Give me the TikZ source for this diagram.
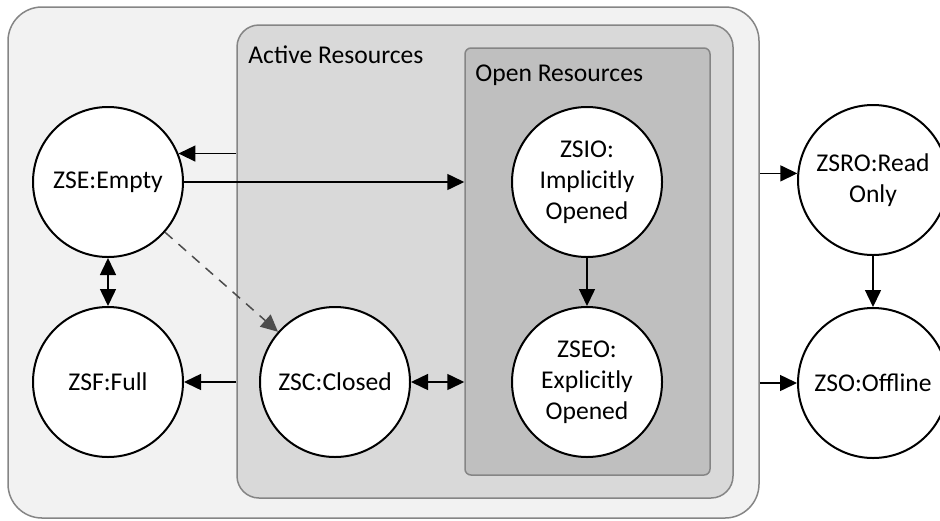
\documentclass[tikz,border=0pt]{standalone}
\usepackage{fontspec}
\setmainfont{Carlito}
\usepackage{tikz}
\usetikzlibrary{arrows.meta,positioning,calc,fit}
\definecolor{outerfill}{HTML}{F2F2F2}
\definecolor{activefill}{HTML}{D9D9D9}
\definecolor{openfill}{HTML}{BFBFBF}
\definecolor{boxline}{HTML}{858585}
\tikzstyle{state}    = [draw,circle,fill=white,line width=1pt,minimum size=75pt,inner sep=0pt,align=center]
\tikzstyle{group}    = [draw=boxline,line width=0.75pt,inner sep=0pt]
\tikzstyle{grouplbl} = [anchor=west,inner sep=0pt]
\tikzstyle{trans}    = [line width=0.75pt,arrows={-Triangle[length=8.5pt,width=8pt]}]
\tikzstyle{both}     = [line width=0.75pt,arrows={Triangle[length=8.5pt,width=8pt]-Triangle[length=8.5pt,width=8pt]}]
\tikzstyle{implicit} = [line width=0.75pt,draw=black!70,dash pattern=on 5pt off 4pt,arrows={-Triangle[length=8.5pt,width=8pt]}]

\begin{document}
\begin{tikzpicture}[x=0.5pt,y=-0.5pt,font=\fontsize{12.8}{15.5}\selectfont]
      \useasboundingbox (0,0) rectangle (940,520);
      % nested groups
      \node (outer)[group,fill=outerfill,rounded corners=17pt,fit={(8,7) (759,518)}] {};
      \node (active)[group,fill=activefill,rounded corners=11pt,fit={(237,25) (733,498)}] {};
      \node (open)[group,fill=openfill,rounded corners=3pt,fit={(465,48) (710,475)}] {};
      \node (activelbl)[grouplbl] at (248,55) {Active Resources};
      \node (openlbl)[grouplbl] at (475,75) {Open Resources};

      % states
      \node (zse)[state]  at (108,182) {ZSE:Empty};
      \node (zsf)[state]  at (108,382) {ZSF:Full};
      \node (zsc)[state]  at (335,382) {ZSC:Closed};
      \node (zsio)[state] at (587,182) {ZSIO:\\Implicitly\\Opened};
      \node (zseo)[state] at (587,382) {ZSEO:\\Explicitly\\Opened};
      \node (zsro)[state] at (873,180) {ZSRO:Read\\Only};
      \node (zso)[state]  at (873,383) {ZSO:Offline};

      % transitions
      \draw[trans] (zse.22 -| active.west) -- (zse.22);
      \draw[trans] (zse.east) -- (zse.east -| open.west);
      \draw[implicit] (zse) -- (zsc);
      \draw[both] (zse.south) -- (zsf.north);
      \draw[trans] (zsf.east -| active.west) -- (zsf.east);
      \draw[both] (zsc.east) -- (zsc.east -| open.west);
      \draw[trans] (zsio.south) -- (zseo.north);
      \draw[trans] (zsro.175 -| outer.east) -- (zsro.175);
      \draw[trans] (zso.west -| outer.east) -- (zso.west);
      \draw[trans] (zsro.south) -- (zso.north);
\end{tikzpicture}
\end{document}
